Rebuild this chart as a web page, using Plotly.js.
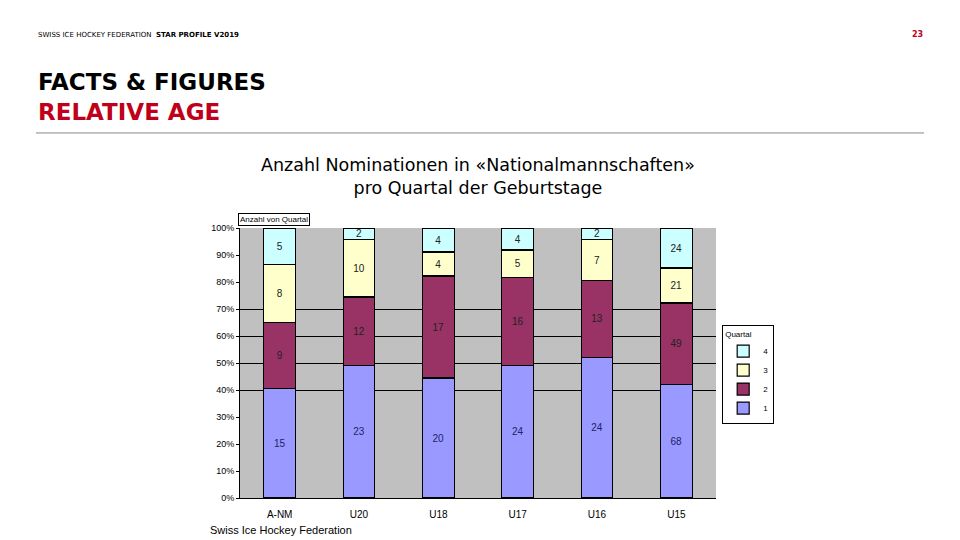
<!DOCTYPE html>
<html>
<head>
<meta charset="utf-8">
<script src="https://cdn.plot.ly/plotly-3.0.1.min.js"></script>
<style>
html,body{margin:0;padding:0;background:#fff;}
#chart{width:960px;height:540px;}
</style>
</head>
<body>
<div id="chart"></div>
<script>
const categories = ["A-NM", "U20", "U18", "U17", "U16", "U15"];
const q1 = [15, 23, 20, 24, 24, 68];
const q2 = [9, 12, 17, 16, 13, 49];
const q3 = [8, 10, 4, 5, 7, 21];
const q4 = [5, 2, 4, 4, 2, 24];
const seriesNames = ["1", "2", "3", "4"];
const seriesColors = ["#9999ff", "#993366", "#ffffcc", "#ccffff"];
const textColors = ["#222266", "#222222", "#222222", "#222222"];
const yTickVals = [0, 10, 20, 30, 40, 50, 60, 70, 80, 90, 100];
const yTickText = ["0%", "10%", "20%", "30%", "40%", "50%", "60%", "70%", "80%", "90%", "100%"];
const gridVals = [40, 50, 60, 70];

const series = [q1, q2, q3, q4];
const chartFont = "Liberation Sans Narrow, Arial Narrow, Liberation Sans, sans-serif";

const traces = series.map((vals, i) => ({
  type: "bar",
  name: seriesNames[i],
  x: categories,
  y: vals,
  text: vals.map(String),
  texttemplate: "%{text}",
  textposition: "inside",
  insidetextanchor: "middle",
  textangle: 0,
  constraintext: "none",
  textfont: {family: chartFont, size: 10, color: textColors[i]},
  marker: {color: seriesColors[i], line: {color: "#000", width: 1.2}},
  width: 0.4,
  hoverinfo: "skip"
}));

// invisible helper trace for the partial gridlines axis
traces.push({
  type: "scatter", x: [categories[0]], y: [0], yaxis: "y2",
  mode: "markers", marker: {opacity: 0}, showlegend: false, hoverinfo: "skip"
});

const layout = {
  width: 960, height: 540,
  margin: {l: 240, r: 244, t: 228, b: 42},
  paper_bgcolor: "#ffffff",
  plot_bgcolor: "#c0c0c0",
  barmode: "stack",
  barnorm: "percent",
  bargap: 0.6,
  showlegend: true,
  font: {family: chartFont, size: 9, color: "#000"},
  xaxis: {
    type: "category",
    showline: true, linecolor: "#000", linewidth: 1,
    ticks: "", ticklabelstandoff: 7,
    tickfont: {family: chartFont, size: 10, color: "#000"},
    showgrid: false, zeroline: false
  },
  yaxis: {
    range: [0, 100],
    tickvals: yTickVals, ticktext: yTickText,
    showline: true, linecolor: "#000", linewidth: 1,
    ticks: "outside", ticklen: 3, tickcolor: "#000",
    tickfont: {family: chartFont, size: 9, color: "#000"},
    showgrid: false, zeroline: false
  },
  yaxis2: {
    overlaying: "y", range: [0, 100],
    tickvals: gridVals, showticklabels: false,
    showgrid: true, gridcolor: "#000", gridwidth: 1,
    zeroline: false, showline: false, ticks: ""
  },
  legend: {
    x: 1.013, xanchor: "left", y: 0.64, yanchor: "top",
    bgcolor: "#ffffff", bordercolor: "#000", borderwidth: 1,
    traceorder: "reversed",
    title: {text: "Quartal", font: {family: chartFont, size: 8}},
    font: {family: chartFont, size: 8, color: "#000"},
    itemwidth: 30, tracegroupgap: 0
  },
  annotations: [
    {xref: "paper", yref: "paper", x: -0.004, y: 1.007, xanchor: "left", yanchor: "bottom",
     text: "Anzahl von Quartal", showarrow: false,
     font: {family: chartFont, size: 8, color: "#000"},
     bordercolor: "#000", borderwidth: 1, borderpad: 1, bgcolor: "#fff"},
    {xref: "paper", yref: "paper", x: -0.067, y: -0.118, xanchor: "left", yanchor: "middle",
     text: "Swiss Ice Hockey Federation", showarrow: false,
     font: {family: "Liberation Sans, Arial, sans-serif", size: 11, color: "#000"}},
    {xref: "paper", yref: "paper", x: 0.5, y: 1.105, xanchor: "center", yanchor: "bottom",
     text: "Anzahl Nominationen in «Nationalmannschaften»<br>pro Quartal der Geburtstage",
     showarrow: false, align: "center",
     font: {family: "DejaVu Sans, sans-serif", size: 17.5, color: "#000"}},
    // page header
    {xref: "paper", yref: "paper", x: -0.4286, y: 1.715, xanchor: "left", yanchor: "middle",
     text: "SWISS ICE HOCKEY FEDERATION  <b>STAR PROFILE V2019</b>", showarrow: false,
     font: {family: "DejaVu Sans, sans-serif", size: 7, color: "#000"}},
    {xref: "paper", yref: "paper", x: 1.424, y: 1.715, xanchor: "center", yanchor: "middle",
     text: "<b>23</b>", showarrow: false,
     font: {family: "DejaVu Sans, sans-serif", size: 8, color: "#c0001a"}},
    {xref: "paper", yref: "paper", x: -0.4286, y: 1.541, xanchor: "left", yanchor: "middle",
     text: "<b>FACTS &amp; FIGURES</b>", showarrow: false,
     font: {family: "DejaVu Sans, sans-serif", size: 23, color: "#000"}},
    {xref: "paper", yref: "paper", x: -0.4286, y: 1.428, xanchor: "left", yanchor: "middle",
     text: "<b>RELATIVE AGE</b>", showarrow: false,
     font: {family: "DejaVu Sans, sans-serif", size: 23, color: "#c0001a"}}
  ],
  shapes: [
    {type: "line", xref: "paper", yref: "paper", x0: -0.4286, x1: 1.437, y0: 1.352, y1: 1.352,
     line: {color: "#888", width: 1}}
  ]
};

Plotly.newPlot("chart", traces, layout, {staticPlot: true, displayModeBar: false});
</script>
</body>
</html>
